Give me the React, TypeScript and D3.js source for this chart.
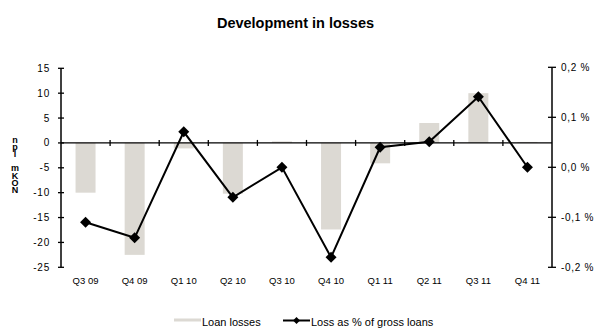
import React from "react";
import * as d3 from "d3";

const categories = ["Q3 09", "Q4 09", "Q1 10", "Q2 10", "Q3 10", "Q4 10", "Q1 11", "Q2 11", "Q3 11", "Q4 11"];
const loanLosses = [-10, -22.5, -1.1, -10.2, 0.3, -17.4, -4.1, 4, 10, 0.2];
const lossPct = [-0.11, -0.141, 0.071, -0.06, 0.0, -0.18, 0.04, 0.051, 0.141, 0.0];
const leftTicks = [15, 10, 5, 0, -5, -10, -15, -20, -25];
const rightTicks = [0.2, 0.1, 0.0, -0.1, -0.2];
const yLabel = "npl mKON";

export default function App() {
  const W = 598, H = 328;
  const left = 61, right = 552;
  const x = d3.scaleBand<string>().domain(categories).range([left, right]).padding(0);
  const y = d3.scaleLinear().domain([-25, 15]).range([267.3, 68.3]);
  const y2 = d3.scaleLinear().domain([-0.2, 0.2]).range([267.3, 67.3]);
  const font = "Liberation Sans, Arial, sans-serif";
  const barW = 20;
  const line = d3.line<number>().x((_, i) => x(categories[i])! + x.bandwidth() / 2).y((d) => y2(d));
  const fmt = (v: number) => v.toFixed(1).replace(".", ",").replace("-0,0", "0,0") + " %";
  const diamond = (cx: number, cy: number, r: number) => `M${cx},${cy - r}L${cx + r},${cy}L${cx},${cy + r}L${cx - r},${cy}Z`;
  return (
    <svg width={W} height={H} style={{ position: "absolute", left: 0, top: 0 }} fontFamily={font}>
      <rect width={W} height={H} fill="#fff" />
      <text x={295.5} y={28} textAnchor="middle" fontWeight="bold" fontSize={14.5}>Development in losses</text>
      {/* bars */}
      {categories.map((c, i) => {
        const v = loanLosses[i];
        const cx = x(c)! + x.bandwidth() / 2;
        return (
          <rect key={c} x={cx - barW / 2} width={barW} y={Math.min(y(v), y(0))} height={Math.abs(y(v) - y(0))} fill="#dcd9d3" />
        );
      })}
      {/* zero line */}
      <line x1={left} x2={right} y1={y(0)} y2={y(0)} stroke="#000" strokeWidth={1.3} />
      {categories.slice(1).map((c) => (
        <line key={c} x1={x(c)!} x2={x(c)!} y1={y(0) - 3} y2={y(0) + 3} stroke="#000" strokeWidth={1.3} />
      ))}
      {/* left axis */}
      <line x1={left} x2={left} y1={y(15)} y2={y(-25)} stroke="#000" strokeWidth={1.5} />
      {leftTicks.map((t) => (
        <g key={t}>
          <line x1={left - 3} x2={left + 3} y1={y(t)} y2={y(t)} stroke="#000" strokeWidth={1.3} />
          <text x={50} y={y(t) + 3.5} textAnchor="end" fontSize={10} letterSpacing={0.8}>{t}</text>
        </g>
      ))}
      {/* right axis */}
      <line x1={right} x2={right} y1={y2(0.2)} y2={y2(-0.2)} stroke="#000" strokeWidth={1.5} />
      {rightTicks.map((t) => (
        <g key={t}>
          <line x1={right - 4} x2={right + 4} y1={y2(t)} y2={y2(t)} stroke="#000" strokeWidth={1.3} />
          <text x={561} y={y2(t) + 3.5} fontSize={10} letterSpacing={0.7}>{fmt(t)}</text>
        </g>
      ))}
      {/* category labels */}
      {categories.map((c) => (
        <text key={c} x={x(c)! + x.bandwidth() / 2} y={284} textAnchor="middle" fontSize={9.5}>{c}</text>
      ))}
      {/* line */}
      <path d={line(lossPct)!} fill="none" stroke="#000" strokeWidth={2} />
      {lossPct.map((v, i) => (
        <path key={i} d={diamond(x(categories[i])! + x.bandwidth() / 2, y2(v), 5.5)} fill="#000" />
      ))}
      {/* y label */}
      <text x={15} y={135} fontSize={9} fontWeight="bold" letterSpacing={-2.9}
        style={{ writingMode: "vertical-rl", textOrientation: "upright" } as any}>{yLabel}</text>
      {/* legend */}
      <rect x={174} y={318.5} width={27} height={3} fill="#dcd9d3" />
      <text x={202} y={326} fontSize={11}>Loan losses</text>
      <line x1={283} x2={310} y1={320.5} y2={320.5} stroke="#000" strokeWidth={2} />
      <path d={diamond(296.5, 320.5, 3.5)} fill="#000" />
      <text x={311} y={326} fontSize={11}>Loss as % of gross loans</text>
    </svg>
  );
}
